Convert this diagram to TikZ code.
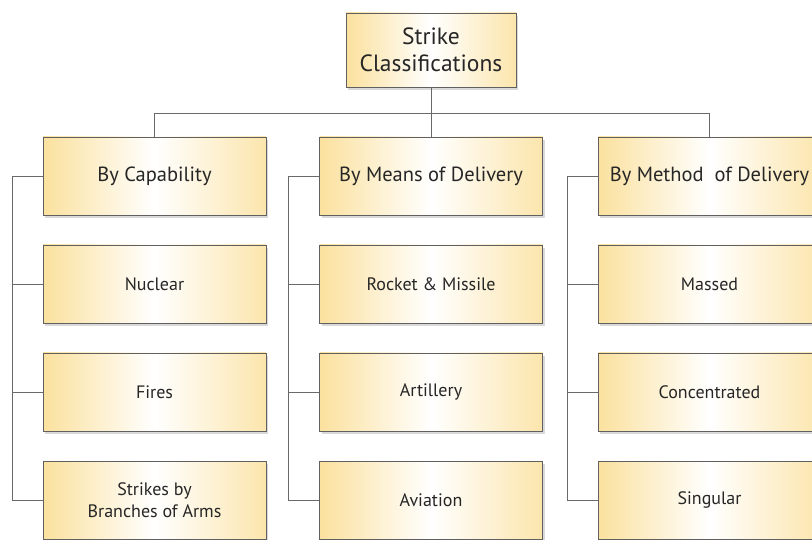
\documentclass[tikz,border=0pt]{standalone}
\usepackage{fontspec}
\setmainfont{PT Sans}
\usetikzlibrary{shadows}
\definecolor{boxtan}{RGB}{251,225,158}
\definecolor{linegray}{RGB}{105,105,105}
\newcommand{\bracket}[2]{\draw[link] (#1) |- (#2);}

\begin{document}
\begin{tikzpicture}[x=1pt,y=-1pt,
	cls/.style={draw=gray!75!black,line width=0.8pt,left color=boxtan,right color=boxtan!85,middle color=white,
		minimum width=223,minimum height=78,align=center,text=black!85,
		drop shadow={opacity=0.3,shadow xshift=2pt,shadow yshift=-3pt}},
	head/.style={cls,font=\fontsize{20.5}{24}\selectfont},
	leaf/.style={cls,font=\fontsize{18}{22}\selectfont},
	link/.style={draw=linegray,line width=0.9pt}]
	\useasboundingbox (0,0) rectangle (812,540);
	\clip (0,0) rectangle (812,540);
			\node[cls,minimum width=170,minimum height=74,font=\fontsize{23.5}{27}\selectfont](top) at (431,50) {Strike\\Classifications};
			\node[head](cap) at (154.5,176) {By Capability};
			\node[head](means) at (431,176) {By Means of Delivery};
			\node[head](method) at (709.5,176) {By Method\ \ of Delivery};
			\node[leaf](nuc) at (154.5,284) {Nuclear};
			\node[leaf](fires) at (154.5,392) {Fires};
			\node[leaf](arms) at (154.5,500) {Strikes by\\Branches of Arms};
			\node[leaf](rocket) at (431,284) {Rocket \& Missile};
			\node[leaf](art) at (431,392) {Artillery};
			\node[leaf](avi) at (431,500) {Aviation};
			\node[leaf](massed) at (709.5,284) {Massed};
			\node[leaf](conc) at (709.5,392) {Concentrated};
			\node[leaf](sing) at (709.5,500) {Singular};
			
			\coordinate (bus) at (431,113);
			\coordinate (c1) at (12,176);
			\coordinate (c2) at (288,176);
			\coordinate (c3) at (567,176);
			
			\draw[link] (top) -- (bus);
			\draw[link] (bus) -| (cap);
			\draw[link] (bus) -- (means);
			\draw[link] (bus) -| (method);
			
			\draw[link] (c1) -- (cap);
			\bracket{c1}{nuc}
			\bracket{c1}{fires}
			\bracket{c1}{arms}
			\draw[link] (c2) -- (means);
			\bracket{c2}{rocket}
			\bracket{c2}{art}
			\bracket{c2}{avi}
			\draw[link] (c3) -- (method);
			\bracket{c3}{massed}
			\bracket{c3}{conc}
			\bracket{c3}{sing}
		\end{tikzpicture}
\end{document}
